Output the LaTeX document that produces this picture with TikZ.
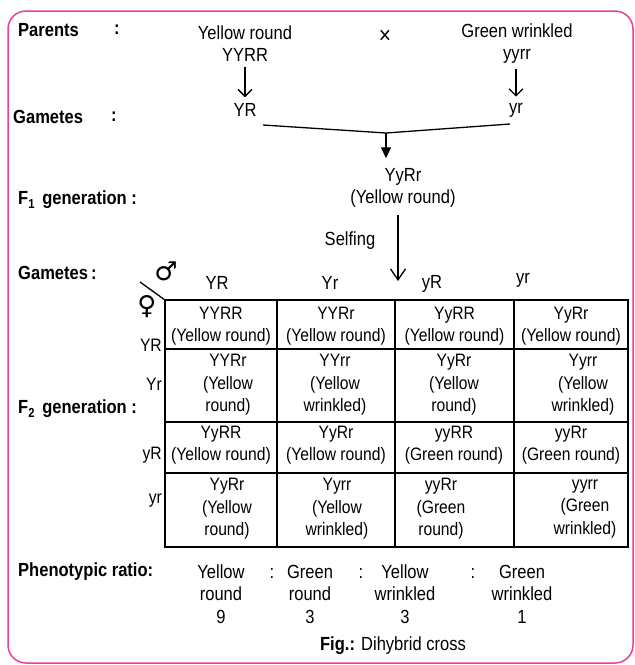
\documentclass[tikz,border=0pt]{standalone}
\usepackage{fontspec}
\setmainfont{Liberation Sans}[FakeStretch=0.87]
\newfontfamily\symfont{DejaVu Sans}
\usetikzlibrary{arrows.meta}
\definecolor{pinkb}{HTML}{E8409C}
\begin{document}
\begin{tikzpicture}[x=1pt,y=-1pt,
  txt/.style={font=\fontsize{19}{22}\selectfont, inner sep=0pt, align=center},
  lbl/.style={font=\fontsize{19}{22}\selectfont\bfseries, inner sep=0pt, anchor=west},
  cell/.style={font=\fontsize{18}{22.5}\selectfont, inner sep=0pt, align=center},
  rowlbl/.style={font=\fontsize{18}{20}\selectfont, inner sep=0pt, anchor=east},
  barb/.style={-{Straight Barb[length=7pt,width=14pt]}, line width=1.3pt},
  bigbarb/.style={-{Straight Barb[length=11pt,width=15pt]}, line width=1.3pt},
  tri/.style={-{Triangle[length=11pt,width=10pt]}, line width=1.3pt},
  gridline/.style={line width=1.6pt}]
\useasboundingbox (0,0) rectangle (635,665);
\draw[pinkb, line width=1.5pt, rounded corners=18pt] (8,11) rectangle (633,663);

% left labels
\node[lbl] (parents) at (18,30) {Parents};
\node[lbl] (pcolon) at (114,30) {:};
\node[lbl] (gam1) at (13,117) {Gametes};
\node[lbl] (gcolon) at (111,117) {:};
\node[lbl] (f1lbl) at (18,200) {F\raisebox{-0.35ex}{\fontsize{13}{13}\selectfont\bfseries 1}\, generation :};
\node[lbl] (gam2) at (18,273) {Gametes\,:};
\node[lbl] (f2lbl) at (18,409) {F\raisebox{-0.35ex}{\fontsize{13}{13}\selectfont\bfseries 2}\, generation :};
\node[lbl] (ratio) at (18,572) {Phenotypic ratio:};

% parents and gametes
\node[txt] (p1) at (245,44) {Yellow round\\YYRR};
\node[txt, font=\fontsize{24}{24}\selectfont] (cross) at (385,37) {×};
\node[txt] (p2) at (517,44) {Green wrinkled\\yyrr};
\node[txt] (g1) at (245,110) {YR};
\node[txt] (g2) at (516,110) {yr};
\draw[barb, shorten <=5pt, shorten >=6pt] (p1.south) -- (g1.north);
\draw[barb, shorten <=5pt, shorten >=6pt] (p2.south -| g2.north) -- (g2.north);

\coordinate (l1) at (263,125);
\coordinate (j) at (386,133);
\coordinate (l2) at (510,124);
\draw[line width=1.3pt] (l1) -- (j) -- (l2);

\node[txt] (f1) at (403,188) {YyRr\\(Yellow round)};
\draw[tri, shorten >=10pt] (j) -- (j |- f1.north);

\coordinate (s1) at (398,215);
\coordinate (s2) at (398,281);
\draw[bigbarb] (s1) -- (s2);
\node[txt] (selfing) at (350,241) {Selfing};

% sex symbols
\node[inner sep=0pt, font=\symfont\fontsize{26}{26}\selectfont] (male) at (166,271) {♂};
\node[inner sep=0pt, font=\symfont\fontsize{26}{26}\selectfont] (female) at (147,307) {♀};
\coordinate (corner) at (165,300);
\draw[line width=1.3pt] (140,282) -- (corner);

% column headers
\node[txt] (cYR) at (217,283) {YR};
\node[txt] (cYr) at (330,283) {Yr};
\node[txt] (cyR) at (432,284) {yR};
\node[txt] (cyr) at (523,280) {yr};

% row headers
\node[rowlbl] (rYR) at (162,345) {YR};
\node[rowlbl] (rYr) at (162,384) {Yr};
\node[rowlbl] (ryR) at (162,455) {yR};
\node[rowlbl] (ryr) at (162,501) {yr};

% grid
\draw[gridline] (165,300) rectangle (628,547);
\foreach \xx in {277,395,514} \draw[gridline] (\xx,300) -- (\xx,547);
\foreach \yy in {349,422,473} \draw[gridline] (165,\yy) -- (628,\yy);

% row 1
\node[cell] (c11) at (221,326) {YYRR\\(Yellow round)};
\node[cell] (c12) at (336,326) {YYRr\\(Yellow round)};
\node[cell] (c13) at (454.5,326) {YyRR\\(Yellow round)};
\node[cell] (c14) at (571,326) {YyRr\\(Yellow round)};
% row 2
\node[cell] (c21) at (228,385) {YYRr\\(Yellow\\round)};
\node[cell] (c22) at (335,385) {YYrr\\(Yellow\\wrinkled)};
\node[cell] (c23) at (454,385) {YyRr\\(Yellow\\round)};
\node[cell] (c24) at (583,385) {Yyrr\\(Yellow\\wrinkled)};
% row 3
\node[cell] (c31) at (221,445) {YyRR\\(Yellow round)};
\node[cell] (c32) at (336,445) {YyRr\\(Yellow round)};
\node[cell] (c33) at (454,445) {yyRR\\(Green round)};
\node[cell] (c34) at (571,445) {yyRr\\(Green round)};
% row 4
\node[cell] (c41) at (227,509) {YyRr\\(Yellow\\round)};
\node[cell] (c42) at (337,509) {Yyrr\\(Yellow\\wrinkled)};
\node[cell] (c43) at (441,509) {yyRr\\(Green\\round)};
\node[cell] (c44) at (585,509) {yyrr\\(Green\\wrinkled)};

% phenotypic ratio
\node[txt, font=\fontsize{19}{22.5}\selectfont] (r1) at (221,594) {Yellow\\round\\9};
\node[txt] (k1) at (272,573) {:};
\node[txt, font=\fontsize{19}{22.5}\selectfont] (r2) at (310,594) {Green\\round\\3};
\node[txt] (k2) at (361,573) {:};
\node[txt, font=\fontsize{19}{22.5}\selectfont] (r3) at (405,594) {Yellow\\wrinkled\\3};
\node[txt] (k3) at (473,573) {:};
\node[txt, font=\fontsize{19}{22.5}\selectfont] (r4) at (522,594) {Green\\wrinkled\\1};

\node[txt] (fig) at (393,646) {\textbf{Fig.:} Dihybrid cross};
\end{tikzpicture}
\end{document}
